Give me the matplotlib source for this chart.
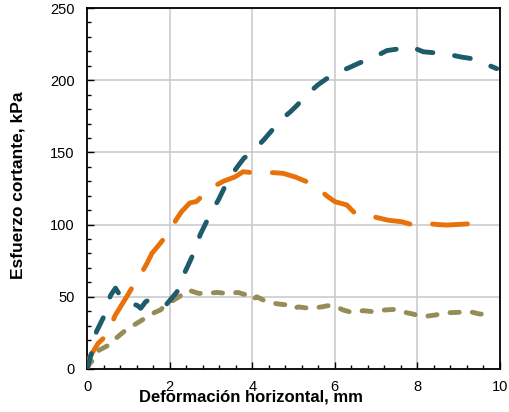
import matplotlib
matplotlib.use("Agg")
import matplotlib.pyplot as plt
from matplotlib.ticker import MultipleLocator

plt.rcParams['font.family'] = ['Liberation Sans', 'DejaVu Sans']

# Teal series
teal_x = [0, 0.11, 0.23, 0.42, 0.57, 0.69, 0.82, 1.0, 1.22, 1.30, 1.42, 1.50, 1.70, 1.90, 2.15,
          2.29, 2.37, 2.50, 2.61, 2.74, 2.86, 2.98, 3.18, 3.30, 3.42, 3.64, 3.80, 3.99, 4.29,
          4.50, 4.67, 4.92, 5.10, 5.28, 5.60, 5.80, 6.05, 6.37, 6.60, 6.89, 7.26, 7.50, 7.74,
          7.86, 8.14, 8.40, 8.63, 9.07, 9.30, 9.52, 9.92]
teal_y = [0, 11, 26, 37, 51, 56, 50, 46, 44, 42, 46.6, 47.8, 45, 44, 52.4,
          58, 67, 75, 82, 93, 100, 107, 117, 124, 131, 140, 146, 150, 159,
          166, 172, 178, 183, 189, 197, 201, 205, 209, 212, 215, 220.5, 221.5, 222,
          223, 219.7, 219, 218.6, 216, 215, 212.8, 208]

# Orange series
orange_x = [0, 0.07, 0.27, 0.48, 0.58, 0.68, 0.96, 1.20, 1.33, 1.45, 1.57, 1.80, 2.01, 2.15,
            2.29, 2.49, 2.65, 2.98, 3.30, 3.58, 3.78, 4.00, 4.27, 4.50, 4.75, 5.04, 5.32,
            5.60, 5.80, 6.00, 6.29, 6.49, 6.81, 7.00, 7.30, 7.62, 7.90, 8.22, 8.50, 8.71,
            9.19, 9.39, 9.68]
orange_y = [0, 8.5, 17.8, 23.5, 30, 37, 50, 61.6, 67, 73, 80, 88, 96, 103,
            109, 115, 116, 125, 130, 133, 136.6, 136, 135.5, 136, 135.5, 133, 129.7,
            125, 120, 115.9, 113.6, 107.8, 106.6, 105, 103, 102, 99.7, 100.8, 100, 99.7,
            100.4, 101.3, 100.8]

# Olive series
olive_x = [0, 0.07, 0.19, 0.29, 0.53, 0.69, 0.94, 1.14, 1.34, 1.50, 1.78, 1.90, 2.23, 2.45,
           2.70, 2.90, 3.14, 3.38, 3.66, 3.87, 3.99, 4.11, 4.35, 4.63, 4.87, 5.00, 5.12,
           5.40, 5.68, 5.92, 6.04, 6.20, 6.41, 6.69, 6.93, 7.22, 7.46, 7.58, 7.66, 7.90,
           8.14, 8.43, 8.75, 8.95, 9.27, 9.52, 9.80]
olive_y = [0, 4, 7.4, 13, 16.6, 21, 27, 30.5, 34, 37.4, 40.9, 44.3, 50, 54.7,
           52.4, 52.4, 53, 52.4, 53, 51.2, 47.8, 50, 46.6, 45, 44.3, 42, 43,
           42, 43, 44.3, 43, 40.9, 39.2, 40.4, 39.7, 40.9, 41.3, 40.4, 39.5, 38,
           36.2, 37.4, 39, 39.2, 39.7, 38, 38.5]

x_ticks = [0, 2, 4, 6, 8, 10]
y_ticks = [0, 50, 100, 150, 200, 250]

fig = plt.figure(figsize=(5.09, 4.12), dpi=100)
ax = fig.add_axes([87/509, 1 - 369/412, (500-87)/509, (369-8)/412])

lw = 3.5
ax.plot(olive_x, olive_y, color='#968C58', lw=lw, linestyle=(0, (1.9, 2.7)),
        dash_capstyle='round', zorder=3)
ax.plot(orange_x, orange_y, color='#E8710A', lw=lw, linestyle=(0, (7.2, 4.7)),
        dash_capstyle='round', zorder=4)
ax.plot(teal_x, teal_y, color='#1F5C6B', lw=lw, linestyle=(0, (3.3, 4.5)),
        dash_capstyle='round', zorder=5)

ax.set_xlim(0, 10)
ax.set_ylim(0, 250)
ax.set_xticks(x_ticks)
ax.set_yticks(y_ticks)
ax.xaxis.set_minor_locator(MultipleLocator(0.4))
ax.yaxis.set_minor_locator(MultipleLocator(10))
ax.tick_params(which='both', direction='in', labelsize=10.5, colors='black')
ax.tick_params(axis='y', pad=9)
ax.tick_params(axis='x', pad=8)
ax.tick_params(which='major', length=5, width=1)
ax.tick_params(which='minor', length=3, width=1)
ax.grid(True, which='major', color='#C8C8C8', lw=1.1, zorder=0)
ax.set_axisbelow(True)
for s in ax.spines.values():
    s.set_linewidth(1.3)
    s.set_color('black')

ax.set_xlabel('Deformación horizontal, mm', fontsize=12, fontweight='bold')
ax.set_ylabel('Esfuerzo cortante, kPa', fontsize=12.5, fontweight='bold')
ax.xaxis.set_label_coords(0.397, -0.057)
ax.yaxis.set_label_coords(-0.148, 0.508)

fig.savefig('out.png', dpi=100)
